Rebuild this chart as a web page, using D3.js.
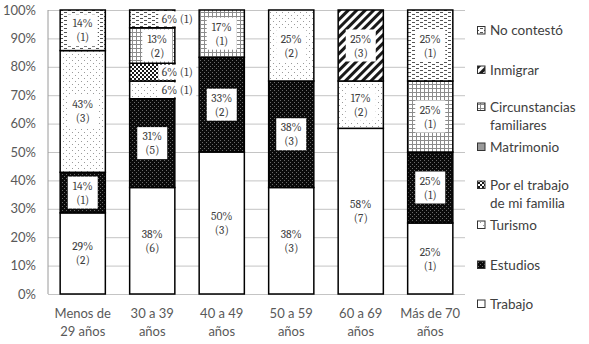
<!DOCTYPE html>
<html>
<head>
<meta charset="utf-8">
<script src="https://cdn.jsdelivr.net/npm/d3@7"></script>
<style>
  body { margin: 0; background: #fff; }
  svg { display: block; }
</style>
</head>
<body>
<svg id="chart" width="589" height="344"></svg>
<script>
// Age groups shown on the x axis (second line of each label after "|")
const categories = ["Menos de|29 años", "30 a 39|años", "40 a 49|años", "50 a 59|años", "60 a 69|años", "Más de 70|años"];

// Reasons, stacked bottom to top
const seriesNames = ["Trabajo", "Estudios", "Turismo", "Por el trabajo de mi familia", "Matrimonio", "Circunstancias familiares", "Inmigrar", "No contestó"];

// Number of answers per age group for each reason
const trabajo        = [2, 6, 3, 3, 7, 1];
const estudios       = [1, 5, 2, 3, 0, 1];
const turismo        = [3, 1, 0, 2, 2, 0];
const porElTrabajo   = [0, 1, 0, 0, 0, 0];
const matrimonio     = [0, 0, 0, 0, 0, 0];
const circunstancias = [0, 2, 1, 0, 0, 1];
const inmigrar       = [0, 0, 0, 0, 3, 0];
const noContesto     = [1, 1, 0, 0, 0, 1];

const yTicks = [0, 0.1, 0.2, 0.3, 0.4, 0.5, 0.6, 0.7, 0.8, 0.9, 1];

// Legend text lines, top to bottom
const legendLines = [
  ["No contestó"], ["Inmigrar"], ["Circunstancias", "familiares"], ["Matrimonio"],
  ["Por el trabajo", "de mi familia"], ["Turismo"], ["Estudios"], ["Trabajo"]
];

const seriesValues = [trabajo, estudios, turismo, porElTrabajo, matrimonio, circunstancias, inmigrar, noContesto];
const rows = categories.map((c, i) => {
  const r = { cat: c };
  seriesNames.forEach((s, j) => { r[s] = seriesValues[j][i]; });
  return r;
});
const totals = categories.map((c, i) => d3.sum(seriesValues, v => v[i]));

const svg = d3.select("#chart");
const plot = { left: 48, right: 465, top: 10, bottom: 294 };

// ---- fill patterns ----
const defs = svg.append("defs");
const patternId = {};
function pat(key, w, h, build, transform) {
  const p = defs.append("pattern").attr("id", "p-" + key)
    .attr("patternUnits", "userSpaceOnUse").attr("width", w).attr("height", h);
  if (transform) p.attr("patternTransform", transform);
  build(p);
  patternId[key] = "url(#p-" + key + ")";
}
// Estudios: black with fine dark-grey speckles
pat("estudios", 4, 4, p => {
  p.append("rect").attr("width", 4).attr("height", 4).attr("fill", "#0a0a0a");
  p.append("rect").attr("x", 0).attr("y", 0).attr("width", 1).attr("height", 1).attr("fill", "#6a6a6a");
  p.append("rect").attr("x", 2).attr("y", 2).attr("width", 1).attr("height", 1).attr("fill", "#6a6a6a");
});
// Turismo: white with sparse grey dots
pat("turismo", 6, 6, p => {
  p.append("rect").attr("width", 6).attr("height", 6).attr("fill", "#fff");
  p.append("rect").attr("x", 0).attr("y", 0).attr("width", 1).attr("height", 1).attr("fill", "#9a9a9a");
  p.append("rect").attr("x", 3).attr("y", 3).attr("width", 1).attr("height", 1).attr("fill", "#9a9a9a");
});
// Por el trabajo de mi familia: small checkerboard
pat("familia", 4, 4, p => {
  p.append("rect").attr("width", 4).attr("height", 4).attr("fill", "#fff");
  p.append("rect").attr("x", 0).attr("y", 0).attr("width", 2).attr("height", 2).attr("fill", "#1a1a1a");
  p.append("rect").attr("x", 2).attr("y", 2).attr("width", 2).attr("height", 2).attr("fill", "#1a1a1a");
});
// Matrimonio: solid grey
pat("matrimonio", 4, 4, p => {
  p.append("rect").attr("width", 4).attr("height", 4).attr("fill", "#9a9a9a");
});
// Circunstancias familiares: small grey grid
pat("circunstancias", 4, 4, p => {
  p.append("rect").attr("width", 4).attr("height", 4).attr("fill", "#fff");
  p.append("rect").attr("x", 0).attr("y", 0).attr("width", 4).attr("height", 1).attr("fill", "#8c8c8c");
  p.append("rect").attr("x", 0).attr("y", 0).attr("width", 1).attr("height", 4).attr("fill", "#8c8c8c");
});
// Inmigrar: wide diagonal stripes
pat("inmigrar", 6, 6, p => {
  p.append("rect").attr("width", 6).attr("height", 6).attr("fill", "#fff");
  p.append("rect").attr("x", 0).attr("y", 0).attr("width", 3).attr("height", 6).attr("fill", "#1a1a1a");
}, "rotate(45)");
// No contestó: staggered short horizontal dashes
pat("nocontesto", 8, 4, p => {
  p.append("rect").attr("width", 8).attr("height", 4).attr("fill", "#fff");
  p.append("rect").attr("x", 0).attr("y", 0).attr("width", 3).attr("height", 1).attr("fill", "#555");
  p.append("rect").attr("x", 4).attr("y", 2).attr("width", 3).attr("height", 1).attr("fill", "#555");
});

const fills = {
  "Trabajo": "#fff",
  "Estudios": patternId.estudios,
  "Turismo": patternId.turismo,
  "Por el trabajo de mi familia": patternId.familia,
  "Matrimonio": patternId.matrimonio,
  "Circunstancias familiares": patternId.circunstancias,
  "Inmigrar": patternId.inmigrar,
  "No contestó": patternId.nocontesto
};

// ---- scales ----
const x = d3.scaleBand().domain(categories).range([plot.left, plot.right])
  .paddingInner(0.35).paddingOuter(0.175);
const y = d3.scaleLinear().domain([0, 1]).range([plot.bottom, plot.top]);

// ---- gridlines ----
const grid = svg.append("g").attr("transform", `translate(${plot.left},0)`)
  .call(d3.axisLeft(y).tickValues(yTicks).tickSize(-(plot.right - plot.left)).tickFormat(""));
grid.select(".domain").remove();
grid.selectAll("line").attr("stroke", "#c4c4c4").attr("stroke-width", 1);

// left axis line
svg.append("line").attr("x1", plot.left).attr("x2", plot.left)
  .attr("y1", plot.top).attr("y2", plot.bottom).attr("stroke", "#9a9a9a");

// y tick labels
const yAxis = svg.append("g").attr("transform", `translate(${plot.left},0)`)
  .call(d3.axisLeft(y).tickValues(yTicks).tickSize(0).tickPadding(12).tickFormat(d3.format(".0%")));
yAxis.select(".domain").remove();
yAxis.selectAll("text").attr("font-family", "Lato, 'Liberation Sans', sans-serif")
  .attr("font-size", 13).attr("fill", "#595959");

// category labels
const xl = svg.append("g").selectAll("text").data(categories).join("text")
  .attr("text-anchor", "middle")
  .attr("font-family", "Lato, 'Liberation Sans', sans-serif")
  .attr("font-size", 13).attr("fill", "#595959");
xl.each(function (d) {
  const cx = x(d) + x.bandwidth() / 2;
  d3.select(this).selectAll("tspan").data(d.split("|")).join("tspan")
    .attr("x", cx).attr("y", (t, i) => 318 + i * 17.5).text(t => t);
});

// ---- stacked bars ----
const stack = d3.stack().keys(seriesNames).offset(d3.stackOffsetExpand);
const layers = stack(rows);

const segments = [];
layers.forEach(layer => {
  layer.forEach((s, i) => {
    const count = s.data[layer.key];
    if (count > 0) segments.push({ key: layer.key, cat: s.data.cat, i, y0: s[0], y1: s[1], count });
  });
});

svg.append("g").selectAll("rect").data(segments).join("rect")
  .attr("x", d => x(d.cat))
  .attr("width", x.bandwidth())
  .attr("y", d => y(d.y1))
  .attr("height", d => y(d.y0) - y(d.y1))
  .attr("fill", d => fills[d.key])
  .attr("stroke", "#000").attr("stroke-width", 1.5);

// ---- value labels ----
const labelNudge = { "30 a 39|años/Circunstancias familiares": 5 };
const labelFont = "Cambria, 'Liberation Serif', 'DejaVu Serif', serif";
const lab = svg.append("g");
segments.forEach(d => {
  const share = d.count / totals[d.i];
  const pct = Math.round(share * 100) + "%";
  const cnt = "(" + d.count + ")";
  const cx = x(d.cat) + x.bandwidth() / 2 + (labelNudge[d.cat + "/" + d.key] || 0);
  const cy = (y(d.y0) + y(d.y1)) / 2;
  const h = y(d.y0) - y(d.y1);
  const g = lab.append("g");
  if (h < 24) {
    // thin segment: one-line label set off to the right of the bar
    const bx = cx + 6, bw = 38;
    g.append("rect").attr("x", bx).attr("y", cy - 7.5).attr("width", bw).attr("height", 15).attr("fill", "#fff");
    g.append("text").attr("x", bx + bw / 2).attr("y", cy).attr("dy", "0.35em")
      .attr("text-anchor", "middle").attr("font-family", labelFont).attr("font-size", 11.5)
      .attr("fill", "#404040").text(pct + " " + cnt);
  } else {
    g.append("rect").attr("x", cx - 15).attr("y", cy - 16).attr("width", 30).attr("height", 32).attr("fill", "#fff");
    [pct, cnt].forEach((t, k) => {
      g.append("text").attr("x", cx).attr("y", cy + (k === 0 ? -7 : 7)).attr("dy", "0.35em")
        .attr("text-anchor", "middle").attr("font-family", labelFont).attr("font-size", 11.5)
        .attr("fill", "#404040").text(t);
    });
  }
});

// ---- legend ----
const legendOrder = seriesNames.slice().reverse();
const legendFirstLineY = [30.5, 70, 107, 147, 185, 225, 265, 304];
const leg = svg.append("g");
legendOrder.forEach((name, k) => {
  const cy = legendFirstLineY[k];
  leg.append("rect").attr("x", 477.5).attr("y", cy - 4).attr("width", 7.5).attr("height", 7.5)
    .attr("fill", fills[name]).attr("stroke", "#333").attr("stroke-width", 1);
  legendLines[k].forEach((t, j) => {
    leg.append("text").attr("x", 490).attr("y", cy + j * 18).attr("dy", "0.35em")
      .attr("font-family", "Lato, 'Liberation Sans', sans-serif").attr("font-size", 13.5)
      .attr("fill", "#404040").text(t);
  });
});
</script>
</body>
</html>
